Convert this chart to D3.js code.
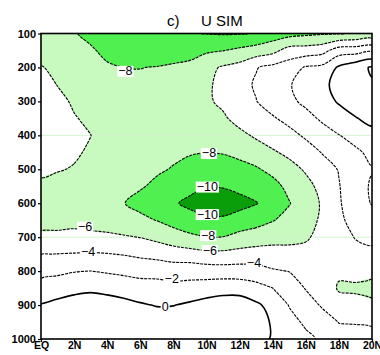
<!DOCTYPE html>
<html>
<head>
<meta charset="utf-8">
<script src="https://cdn.jsdelivr.net/npm/d3@7"></script>
<style>
  body { margin: 0; background: #fff; }
  svg { display: block; }
</style>
</head>
<body>
<div class="container"></div>
<script>
// latitude columns (deg N) and pressure rows (hPa)
var lats = [0, 1, 2, 3, 4, 5, 6, 7, 8, 9, 10, 11, 12, 13, 14, 15, 16, 17, 18, 19, 20];
var levels = [100, 150, 200, 250, 300, 350, 400, 450, 500, 550, 600, 650, 700, 750, 800, 850, 900, 950, 1000];

// zonal wind (m/s), one row per pressure level, EQ .. 20N
var uWind = [
    [-7.5, -7.7, -7.9, -8.4, -9.0, -9.4, -9.7, -9.8, -9.85, -9.9, -10.05, -10.15, -10.1, -9.9, -9.1, -8.7, -8.4, -8.2, -8.1, -7.8, -7.5],
    [-6.8, -7.0, -7.3, -7.8, -8.4, -8.8, -9.0, -9.1, -9.0, -8.7, -8.3, -8.05, -7.6, -7.1, -6.6, -5.2, -5.1, -4.7, -3.0, -2.9, -2.4],
    [-5.9, -6.4, -6.9, -7.3, -7.8, -8.02, -8.03, -7.93, -7.7, -7.5, -6.5, -5.8, -5.3, -4.1, -3.5, -3.0, -1.8, -1.5, 0.3, 1.3, 2.2],
    [-5.4, -6.05, -6.5, -6.9, -7.3, -7.6, -7.7, -7.6, -7.4, -7.3, -6.3, -5.5, -4.6, -3.8, -2.8, -2.15, -1.2, -0.5, 0.7, 1.6, 1.85],
    [-5.1, -5.6, -6.2, -6.6, -7.0, -7.3, -7.4, -7.4, -7.3, -7.2, -6.3, -5.6, -4.7, -4.05, -3.1, -2.4, -1.6, -0.8, 0.2, 0.9, 1.2],
    [-5.0, -5.4, -5.9, -6.3, -6.8, -7.1, -7.2, -7.3, -7.3, -7.2, -6.6, -6.3, -5.3, -4.8, -4.2, -3.4, -2.6, -1.7, -0.9, -0.1, 0.5],
    [-5.0, -5.3, -5.7, -5.98, -6.7, -7.1, -7.2, -7.4, -7.4, -7.4, -7.1, -7.0, -6.5, -5.7, -5.2, -4.6, -3.7, -2.8, -2.05, -1.4, -0.6],
    [-5.2, -5.5, -5.8, -6.2, -6.8, -7.2, -7.4, -7.6, -7.7, -7.85, -7.97, -7.9, -7.6, -7.0, -6.2, -5.6, -4.9, -3.9, -3.0, -2.3, -1.6],
    [-5.7, -5.9, -6.1, -6.5, -7.0, -7.5, -7.7, -7.8, -8.1, -8.6, -8.9, -8.8, -8.5, -8.2, -7.5, -6.6, -5.8, -4.8, -3.9, -2.7, -2.1],
    [-6.3, -6.5, -6.7, -7.0, -7.3, -7.8, -7.85, -8.3, -9.0, -9.5, -9.95, -9.9, -9.5, -9.1, -8.6, -7.5, -6.5, -5.5, -4.1, -2.7, -1.8],
    [-6.6, -6.8, -7.0, -7.2, -7.5, -7.95, -8.5, -9.2, -9.8, -10.4, -10.8, -10.8, -10.6, -10.1, -9.2, -8.1, -6.9, -5.8, -4.2, -2.9, -1.9],
    [-6.5, -6.6, -6.5, -6.8, -7.0, -7.4, -7.6, -8.05, -8.7, -9.3, -9.7, -9.75, -9.2, -8.7, -8.1, -7.4, -6.7, -5.7, -4.4, -3.3, -2.8],
    [-5.7, -5.6, -5.5, -5.5, -5.6, -5.8, -6.05, -6.5, -7.1, -7.6, -7.95, -7.95, -7.4, -7.1, -6.7, -6.5, -6.2, -5.5, -4.9, -3.9, -3.6],
    [-4.05, -3.97, -3.9, -3.85, -3.92, -4.1, -4.4, -4.7, -5.0, -5.2, -5.5, -5.5, -5.3, -5.1, -5.2, -5.4, -5.5, -5.3, -5.3, -4.6, -4.4],
    [-2.6, -2.4, -2.1, -1.98, -2.2, -2.4, -2.6, -2.6, -2.9, -2.8, -3.0, -3.1, -3.1, -3.3, -3.8, -4.05, -4.9, -5.1, -5.7, -5.4, -5.5],
    [-1.2, -0.9, -0.6, -0.4, -0.6, -0.9, -1.2, -1.3, -1.4, -1.3, -1.0, -0.7, -0.8, -1.3, -2.0, -3.0, -4.1, -4.8, -6.2, -6.3, -6.6],
    [0.1, 0.5, 0.9, 1.1, 0.9, 0.6, 0.2, -0.1, -0.05, 0.3, 0.7, 0.9, 1.0, 0.3, -0.6, -2.1, -3.2, -4.2, -5.3, -5.4, -5.6],
    [0.8, 1.1, 1.4, 1.6, 1.6, 1.4, 1.2, 1.0, 1.0, 1.2, 1.5, 1.7, 1.8, 1.2, -0.3, -1.4, -2.3, -3.2, -4.05, -4.1, -4.2],
    [1.0, 1.2, 1.5, 1.7, 1.8, 1.7, 1.6, 1.5, 1.5, 1.6, 1.8, 1.85, 1.9, 1.6, -0.4, -1.2, -1.6, -2.3, -3.3, -3.4, -3.5]
];

// shading: below -6, -8, -10
var shadeLevels = [-6, -8, -10];
var shadeColors = ['#c8fac0', '#4ff04f', '#0a9f0a'];
var lineLevels = [-10, -8, -6, -4, -2, 0, 2];

var xTicks = [0, 2, 4, 6, 8, 10, 12, 14, 16, 18, 20];
var xTickLabels = ['EQ', '2N', '4N', '6N', '8N', '10N', '12N', '14N', '16N', '18N', '20N'];
var yTicks = [100, 200, 300, 400, 500, 600, 700, 800, 900, 1000];
var gridLevels = [400, 700];

// contour labels: value, lat, pressure
var labelValues = [-8, -8, -10, -10, -8, -6, -6, -4, -4, -2, 0];
var labelLats = [5.1, 10.15, 10.05, 10.05, 10.1, 2.66, 10.2, 2.84, 12.87, 7.9, 7.5];
var labelLevels = [210, 452, 551, 632, 694, 669, 738, 743, 776, 821, 905];

var drawChart = function () {

    var WIDTH = 380;
    var HEIGHT = 355;
    var LEFT = 41, RIGHT = 372, TOP = 33.5, BOTTOM = 339;
    var FONT = "'Liberation Sans', Arial, sans-serif";

    var nx = lats.length, ny = levels.length;

    var xScale = d3.scaleLinear().domain([0, 20]).range([LEFT, RIGHT]);
    var yScale = d3.scaleLinear().domain([100, 1000]).range([TOP, BOTTOM]);

    // d3.contours grid coordinates -> lat / pressure
    var gx = d3.scaleLinear().domain([0.5, nx - 0.5]).range([lats[0], lats[nx - 1]]);
    var gy = d3.scaleLinear().domain([0.5, ny - 0.5]).range([levels[0], levels[ny - 1]]);

    var values = [];
    uWind.forEach(function (row) {
        row.forEach(function (v) { values.push(v); });
    });
    var negValues = values.map(function (v) { return -v; });

    var contours = d3.contours().size([nx, ny]);

    var ringLine = d3.line()
        .x(function (d) { return xScale(gx(d[0])); })
        .y(function (d) { return yScale(gy(d[1])); })
        .curve(d3.curveCatmullRomClosed.alpha(0.5));

    function contourPath(geom) {
        return geom.coordinates.map(function (poly) {
            return poly.map(function (ring) {
                return ringLine(ring.slice(0, -1));
            }).join('');
        }).join('');
    }

    var svg = d3.select('.container')
        .append('svg')
        .attr('width', WIDTH)
        .attr('height', HEIGHT);

    svg.append('clipPath')
        .attr('id', 'plot-clip')
        .append('rect')
        .attr('x', LEFT)
        .attr('y', TOP)
        .attr('width', RIGHT - LEFT)
        .attr('height', BOTTOM - TOP);

    var plot = svg.append('g').attr('clip-path', 'url(#plot-clip)');

    // shaded areas (u below a level)
    shadeLevels.forEach(function (lvl, i) {
        plot.append('path')
            .attr('d', contourPath(contours.contour(negValues, -lvl)))
            .attr('fill', shadeColors[i])
            .attr('fill-rule', 'evenodd')
            .attr('stroke', 'none');
    });

    // faint grid lines
    plot.selectAll('.grid')
        .data(gridLevels)
        .enter()
        .append('line')
        .attr('x1', LEFT)
        .attr('x2', RIGHT)
        .attr('y1', function (d) { return yScale(d); })
        .attr('y2', function (d) { return yScale(d); })
        .attr('stroke', '#d2f3cd')
        .attr('stroke-width', 1);

    // contour lines
    lineLevels.forEach(function (lvl) {
        plot.append('path')
            .attr('d', contourPath(contours.contour(values, lvl)))
            .attr('fill', 'none')
            .attr('stroke', '#000')
            .attr('stroke-width', lvl < 0 ? 1.1 : 1.6)
            .attr('stroke-dasharray', lvl < 0 ? '3,1' : null);
    });

    // contour labels with white boxes
    var fmt = d3.format('d');
    var labels = svg.append('g');
    labelValues.forEach(function (v, i) {
        var g = labels.append('g')
            .attr('transform', 'translate(' + xScale(labelLats[i]) + ',' + yScale(labelLevels[i]) + ')');
        var bg = g.append('rect').attr('fill', '#fff');
        var t = g.append('text')
            .attr('text-anchor', 'middle')
            .attr('dy', '0.36em')
            .style('font-family', FONT)
            .style('font-size', '12.5px')
            .text(fmt(v));
        var bb = t.node().getBBox();
        bg.attr('x', bb.x - 1)
            .attr('y', bb.y + 1.5)
            .attr('width', bb.width + 2)
            .attr('height', bb.height - 3);
    });

    // frame
    svg.append('rect')
        .attr('x', LEFT)
        .attr('y', TOP)
        .attr('width', RIGHT - LEFT)
        .attr('height', BOTTOM - TOP)
        .attr('fill', 'none')
        .attr('stroke', '#000')
        .attr('stroke-width', 1.6);

    var yAxis = d3.axisLeft(yScale)
        .tickValues(yTicks)
        .tickSize(3)
        .tickPadding(2)
        .tickFormat(d3.format('d'));

    var xAxis = d3.axisBottom(xScale)
        .tickValues(xTicks)
        .tickSize(3)
        .tickPadding(0)
        .tickFormat(function (d, i) { return xTickLabels[i]; });

    var gy1 = svg.append('g')
        .attr('transform', 'translate(' + LEFT + ',0)')
        .call(yAxis);

    var gx1 = svg.append('g')
        .attr('transform', 'translate(0,' + BOTTOM + ')')
        .call(xAxis);

    [gy1, gx1].forEach(function (g) {
        g.select('.domain').remove();
        g.selectAll('line').attr('stroke', '#000').attr('stroke-width', 1.2);
        g.selectAll('text')
            .attr('fill', '#000')
            .style('font-family', FONT)
            .style('font-size', '11px')
            .style('font-weight', 'bold');
    });
    gx1.selectAll('text').style('font-size', '10.5px');

    // title: "c)" and "U SIM" with GrADS-like wide gap
    var title = svg.append('text')
        .attr('y', 26)
        .style('font-family', FONT)
        .style('font-size', '15px');
    title.append('tspan').attr('x', 167).text('c)');
    title.append('tspan').attr('x', 201).text('U SIM');
};

window.onload = drawChart;
</script>
</body>
</html>
